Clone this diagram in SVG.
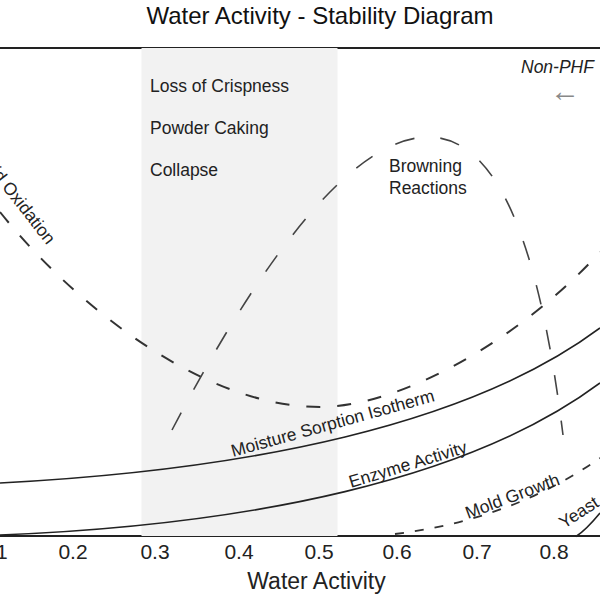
<svg xmlns="http://www.w3.org/2000/svg" width="600" height="600" viewBox="0 0 600 600">
<style>
.lbl{font-family:"Liberation Sans",Arial,Helvetica,sans-serif;font-size:17.5px;fill:#222}
.tick{font-family:"Liberation Sans",Arial,Helvetica,sans-serif;font-size:21px;fill:#222;text-anchor:middle}
.solid{fill:none;stroke:#222;stroke-width:1.6}
.dash-lipid{fill:none;stroke:#333;stroke-width:2;stroke-dasharray:14 17}
.dash-brown{fill:none;stroke:#444;stroke-width:1.6;stroke-dasharray:20 26}
.dash-mold{fill:none;stroke:#333;stroke-width:1.8;stroke-dasharray:9 11}
</style>
<rect width="600" height="600" fill="#fff"/>
<g id="title">
<text x="320" y="24" text-anchor="middle" font-family="Liberation Sans, Arial, sans-serif" font-size="24" fill="#111">Water Activity - Stability Diagram</text>
</g>
<g id="frame">
<line x1="0" y1="48" x2="600" y2="48" stroke="#222" stroke-width="2"/>
<line x1="0" y1="536" x2="600" y2="536" stroke="#222" stroke-width="2"/>
</g>
<g id="band">
<rect x="141.5" y="48" width="196" height="488" fill="#f2f2f2"/>
<text class="lbl" x="150" y="92">Loss of Crispness</text>
<text class="lbl" x="150" y="134">Powder Caking</text>
<text class="lbl" x="150" y="176">Collapse</text>
</g>
<g id="connectors">
<path id="lipid" class="dash-lipid" d="M0 212 C70 300 200 407 320 407 C400 407 520 340 600 252"/>
<path id="browning" class="dash-brown" d="M172 430 C240 300 340 138 428 137 C500 137 540 250 563 435"/>
<path id="isotherm" class="solid" d="M0 483 C250 470 470 425 600 328"/>
<path id="enzyme" class="solid" d="M0 535 C250 525 470 480 600 383"/>
<path id="mold" class="dash-mold" d="M395 534 C470 525 540 500 600 458"/>
<path id="yeast" class="solid" d="M576 536.5 Q586 530 600 513"/>
</g>
<g id="lipid-label">
<text class="lbl" transform="translate(47 245.5) rotate(52)" text-anchor="end">Lipid Oxidation</text>
</g>
<g id="browning-label">
<text class="lbl" x="389" y="172">Browning</text>
<text class="lbl" x="389" y="194">Reactions</text>
</g>
<g id="isotherm-label">
<text class="lbl" transform="translate(233 457) rotate(-15.5)">Moisture Sorption Isotherm</text>
</g>
<g id="enzyme-label">
<text class="lbl" transform="translate(351 488) rotate(-17)">Enzyme Activity</text>
</g>
<g id="mold-label">
<text class="lbl" transform="translate(468 519) rotate(-20.5)">Mold Growth</text>
</g>
<g id="yeast-label">
<text class="lbl" transform="translate(564 529) rotate(-33)">Yeast</text>
</g>
<g id="nonphf">
<text class="lbl" x="521" y="73" font-style="italic">Non-PHF</text>
<text x="565" y="101" text-anchor="middle" font-family="Liberation Sans, DejaVu Sans, sans-serif" font-size="30" fill="#888">←</text>
</g>
<g id="axis">
<text class="tick" x="-7" y="559">0.1</text>
<text class="tick" x="73" y="559">0.2</text>
<text class="tick" x="155" y="559">0.3</text>
<text class="tick" x="239" y="559">0.4</text>
<text class="tick" x="319" y="559">0.5</text>
<text class="tick" x="397" y="559">0.6</text>
<text class="tick" x="477" y="559">0.7</text>
<text class="tick" x="554" y="559">0.8</text>
<text x="316.5" y="589" text-anchor="middle" font-family="Liberation Sans, Arial, sans-serif" font-size="23" fill="#222">Water Activity</text>
</g>
</svg>
